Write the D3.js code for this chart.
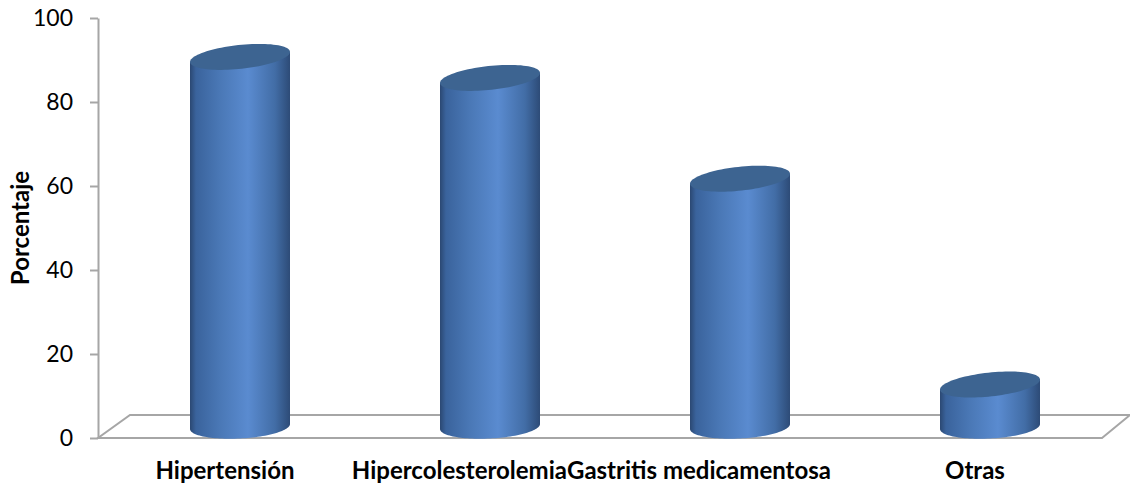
<!DOCTYPE html>
<html lang="es">
	<head>
		<meta charset="utf-8">
		<title>Porcentaje</title>
		<script type="text/javascript" src="https://d3js.org/d3.v7.min.js"></script>
		<style type="text/css">
			body { margin: 0; background: #fff; }
			text { font-family: Lato, "Open Sans", sans-serif; fill: #000; }
		</style>
	</head>
	<body>
		<script type="text/javascript">

			// data
			var categories = ["Hipertensión", "Hipercolesterolemia", "Gastritis medicamentosa", "Otras"];
			var values = [88, 83, 59, 10];
			var yTicks = [0, 20, 40, 60, 80, 100];

			//Width and height
			var w = 1130;
			var h = 487;

			// 3d floor depth
			var depthX = 30;
			var depthY = 23;

			var x = d3.scaleBand().domain(categories).range([100, 1100]);
			var y = d3.scaleLinear().domain([0, 100]).range([438, 18]);

			var svg = d3.select("body")
						.append("svg")
						.attr("width", w)
						.attr("height", h);

			var defs = svg.append("defs");
			var grad = defs.append("linearGradient")
						.attr("id", "cyl")
						.attr("x1", "0%").attr("x2", "100%")
						.attr("y1", "0%").attr("y2", "0%");
			[["0%", "#2b4872"], ["6%", "#3a639c"], ["30%", "#4a78b6"], ["58%", "#5a8bd0"], ["85%", "#426da6"], ["100%", "#2d4b77"]]
				.forEach(function(s) {
					grad.append("stop").attr("offset", s[0]).attr("stop-color", s[1]);
				});

			//floor
			var y0 = y(0);
			var x0 = x.range()[0], x1 = x.range()[1];
			svg.append("path")
				.attr("d", "M" + (x0 - 2) + "," + y0 + "L" + (x1 + 2) + "," + y0 +
					"L" + (x1 + depthX) + "," + (y0 - depthY) +
					"L" + (x0 + depthX) + "," + (y0 - depthY) + "Z")
				.style("fill", "none")
				.style("stroke", "#a6a6a6")
				.style("stroke-width", 2);

			//axis
			var axis = d3.axisLeft(y).tickValues(yTicks).tickSizeInner(8).tickSizeOuter(0).tickPadding(17);
			var gAxis = svg.append("g")
				.attr("transform", "translate(98,0)")
				.call(axis);
			gAxis.select(".domain").style("stroke", "#a6a6a6").style("stroke-width", 2);
			gAxis.selectAll(".tick line").style("stroke", "#a6a6a6").style("stroke-width", 2);
			gAxis.selectAll(".tick text")
				.style("font-family", "Lato, sans-serif")
				.style("font-size", "23px")
				.style("fill", "#000");

			// cylinders
			var rx = 50, ry = 12;
			var slopeTop = -0.1, slopeBottom = -0.05;
			var line = d3.line();

			function ellipsePts(cx, cy, slope, t0, t1, n) {
				var pts = [];
				for (var i = 0; i <= n; i++) {
					var t = t0 + (t1 - t0) * i / n;
					var px = rx * Math.cos(t);
					pts.push([cx + px, cy + ry * Math.sin(t) + slope * px]);
				}
				return pts;
			}

			var bars = svg.selectAll("g.bar")
				.data(categories)
				.enter()
				.append("g")
				.attr("class", "bar");

			bars.each(function(d, i) {
				var g = d3.select(this);
				var cx = x(d) + x.bandwidth() / 2 + depthX / 2;
				var bottomY = y(0) - depthY / 2;
				var topY = y(values[i]) - depthY / 2;

				var side = [[cx - rx, topY - slopeTop * rx]]
					.concat(ellipsePts(cx, bottomY, slopeBottom, Math.PI, 0, 60))
					.concat([[cx + rx, topY + slopeTop * rx]]);
				g.append("path")
					.attr("d", line(side) + "Z")
					.style("fill", "url(#cyl)");

				g.append("path")
					.attr("d", line(ellipsePts(cx, topY, slopeTop, 0, Math.PI * 2, 90)) + "Z")
					.style("fill", "#3d6491");
			});

			// category labels; the two long middle ones run into each other, like in the original
			var joinX = x(categories[2]) - 33;
			svg.selectAll("text.cat")
				.data(categories)
				.enter()
				.append("text")
				.attr("class", "cat")
				.attr("x", function(d, i) {
					if (i == 1 || i == 2) return joinX;
					return x(d) + x.bandwidth() / 2;
				})
				.attr("y", 479)
				.attr("text-anchor", function(d, i) {
					if (i == 1) return "end";
					if (i == 2) return "start";
					return "middle";
				})
				.style("font-weight", "bold")
				.style("font-size", "24px")
				.text(function(d) { return d; });

			// y title
			svg.append("text")
				.attr("transform", "translate(29,228) rotate(-90)")
				.attr("text-anchor", "middle")
				.style("font-weight", "bold")
				.style("font-size", "24px")
				.text("Porcentaje");

		</script>
	</body>
</html>
